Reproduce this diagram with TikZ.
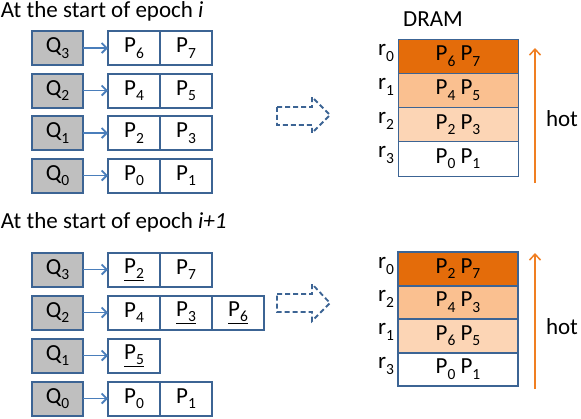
\documentclass[tikz,border=0pt]{standalone}
\usepackage{fontspec}
\setmainfont{Carlito}
\usetikzlibrary{arrows.meta}
\definecolor{boxblue}{HTML}{3C6494}
\definecolor{arrblue}{HTML}{4A7EBB}
\definecolor{qgray}{HTML}{BFBFBF}
\definecolor{heatA}{HTML}{E46C0A}
\definecolor{heatB}{HTML}{FAC090}
\definecolor{heatC}{HTML}{FCD5B5}
\definecolor{hotarrow}{HTML}{F07F22}
\newcommand\sbx[1]{\raisebox{-5.5pt}{\fontsize{15.5}{15.5}\selectfont #1}}
\begin{document}
\begin{tikzpicture}[x=1pt,y=-1pt,
  every node/.style={font=\fontsize{23}{27}\selectfont, inner sep=0pt, outer sep=0pt},
  qbox/.style={draw=boxblue, line width=2pt, fill=qgray, minimum width=51pt, minimum height=34pt},
  pcell/.style={draw=boxblue, line width=2pt, fill=white, minimum width=52pt, minimum height=34pt},
  dcellA/.style={draw=boxblue, line width=1pt, minimum width=120pt, minimum height=34.25pt},
  dcellB/.style={draw=boxblue, line width=2pt, minimum width=120pt, minimum height=33.5pt},
  qarrow/.style={draw=arrblue, line width=1.8pt, -{Straight Barb[length=5pt,width=10pt]}},
  hotarr/.style={draw=hotarrow, line width=1.5pt, -{Straight Barb[length=6pt,width=11pt]}},
  blockarr/.style={draw=boxblue, line width=1.8pt, dash pattern=on 5pt off 3pt},
  rlab/.style={anchor=east},
  title/.style={anchor=west}]
\useasboundingbox (0,0) rectangle (581,418);
% ---------- top ----------
\node[title] (t1) at (1,11) {At the start of epoch \textit{i}};
\foreach \q/\y/\a/\b in {3/48/6/7, 2/90.5/4/5, 1/133/2/3, 0/175.5/0/1}{
  \node[qbox] (q\q) at (57.5,\y) {Q\sbx{\q}};
  \node[pcell] (pa\q) at (134,\y) {P\sbx{\a}};
  \node[pcell] (pb\q) at (186,\y) {P\sbx{\b}};
  \draw[qarrow] (q\q.east) -- (pa\q.west);
}
\draw[blockarr] (277,107) -- (312,107) -- (312,97) -- (330,115) -- (312,133) -- (312,125) -- (277,125) -- cycle;
\node (dram) at (433,19) {DRAM};
\node[dcellA, fill=heatA] (d0) at (458,56.125) {P\sbx{6} P\sbx{7}};
\node[dcellA, fill=heatB] (d1) at (458,90.375) {P\sbx{4} P\sbx{5}};
\node[dcellA, fill=heatC] (d2) at (458,124.625) {P\sbx{2} P\sbx{3}};
\node[dcellA, fill=white] (d3) at (458,158.875) {P\sbx{0} P\sbx{1}};
\node[rlab] (r0) at (394,53) {r\sbx{0}};
\node[rlab] (r1) at (394,87) {r\sbx{1}};
\node[rlab] (r2) at (394,121) {r\sbx{2}};
\node[rlab] (r3) at (394,155) {r\sbx{3}};
\coordinate (h1s) at (535,183);
\coordinate (h1e) at (535,48);
\draw[hotarr] (h1s) -- (h1e);
\node[anchor=west] (hot1) at (546,119) {hot};
% ---------- bottom ----------
\node[title] (t2) at (1,222) {At the start of epoch \textit{i+1}};
\node[qbox] (bq3) at (57.5,269.5) {Q\sbx{3}};
\node[pcell] (bp31) at (134,269.5) {\underline{P\sbx{2}}};
\node[pcell] (bp32) at (186,269.5) {P\sbx{7}};
\node[qbox] (bq2) at (57.5,312.5) {Q\sbx{2}};
\node[pcell] (bp21) at (134,312.5) {P\sbx{4}};
\node[pcell] (bp22) at (186,312.5) {\underline{P\sbx{3}}};
\node[pcell] (bp23) at (238,312.5) {\underline{P\sbx{6}}};
\node[qbox] (bq1) at (57.5,355.5) {Q\sbx{1}};
\node[pcell] (bp11) at (134,355.5) {\underline{P\sbx{5}}};
\node[qbox] (bq0) at (57.5,398.5) {Q\sbx{0}};
\node[pcell] (bp01) at (134,398.5) {P\sbx{0}};
\node[pcell] (bp02) at (186,398.5) {P\sbx{1}};
\draw[qarrow] (bq3.east) -- (bp31.west);
\draw[qarrow] (bq2.east) -- (bp21.west);
\draw[qarrow] (bq1.east) -- (bp11.west);
\draw[qarrow] (bq0.east) -- (bp01.west);
\draw[blockarr] (277,294) -- (312,294) -- (312,284) -- (330,303) -- (312,321) -- (312,312) -- (277,312) -- cycle;
\node[dcellB, fill=heatA] (e0) at (458,268.75) {P\sbx{2} P\sbx{7}};
\node[dcellB, fill=heatB] (e1) at (458,302.25) {P\sbx{4} P\sbx{3}};
\node[dcellB, fill=heatC] (e2) at (458,335.75) {P\sbx{6} P\sbx{5}};
\node[dcellB, fill=white] (e3) at (458,369.25) {P\sbx{0} P\sbx{1}};
\node[rlab] (s0) at (394,266) {r\sbx{0}};
\node[rlab] (s1) at (394,299) {r\sbx{2}};
\node[rlab] (s2) at (394,332) {r\sbx{1}};
\node[rlab] (s3) at (394,366) {r\sbx{3}};
\coordinate (h2s) at (535,389);
\coordinate (h2e) at (535,253);
\draw[hotarr] (h2s) -- (h2e);
\node[anchor=west] (hot2) at (546,327) {hot};
\end{tikzpicture}
\end{document}
